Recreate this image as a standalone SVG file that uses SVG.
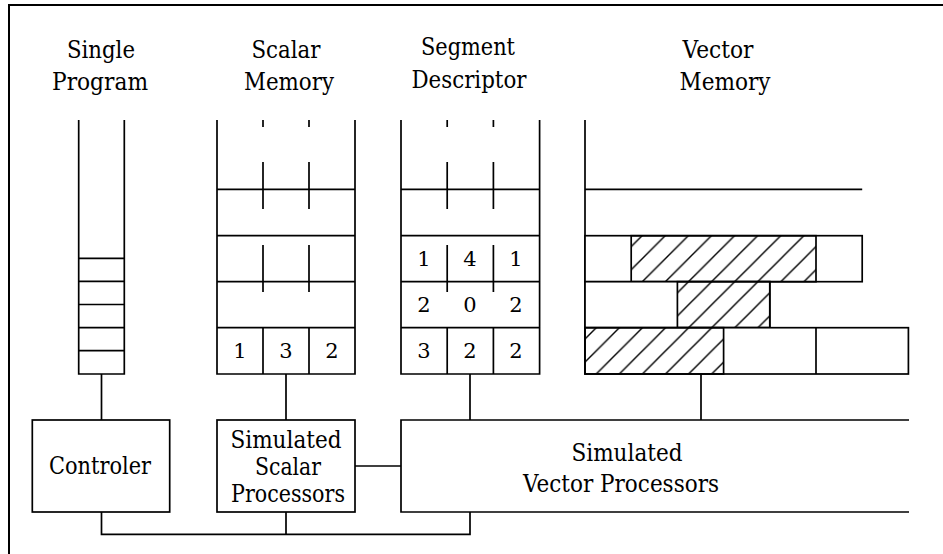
<svg xmlns="http://www.w3.org/2000/svg" width="943" height="554" viewBox="0 0 943 554">
<defs>
<pattern id="hatch" patternUnits="userSpaceOnUse" width="23.1" height="23.1">
<path d="M-3,3 L3,-3 M0,23.1 L23.1,0 M20.1,26.1 L26.1,20.1" stroke="#000" stroke-width="1.4"/>
</pattern>
<style>
.ln{stroke:#000;stroke-width:1.7;fill:none;stroke-linecap:butt}
.bx{stroke:#000;stroke-width:1.7;fill:#fff}
.ht{stroke:#000;stroke-width:1.7;fill:url(#hatch)}
.t{font-size:24px}
.n{font-size:21px}
</style>
</defs>
<rect width="943" height="554" fill="#fff"/>
<path d="M9,554 V5 H943" stroke="#000" stroke-width="2" fill="none"/>
<g font-family="DejaVu Serif, Liberation Serif, serif" fill="#000" text-anchor="middle">
<g id="single-program">
<text class="t" x="101" y="58" textLength="68" lengthAdjust="spacingAndGlyphs">Single</text>
<text class="t" x="100" y="90" textLength="96" lengthAdjust="spacingAndGlyphs">Program</text>
<path class="ln" d="M78.7,120 V374 H124.3 V120 M78.7,258.3 H124.3 M78.7,281.4 H124.3 M78.7,304.5 H124.3 M78.7,327.6 H124.3 M78.7,350.7 H124.3"/>
</g>

<g id="scalar-memory">
<text class="t" x="286" y="58" textLength="69" lengthAdjust="spacingAndGlyphs">Scalar</text>
<text class="t" x="289" y="90" textLength="90" lengthAdjust="spacingAndGlyphs">Memory</text>
<path class="ln" d="M217,120 V374 H355 V120 M217,189.3 H355 M217,235.7 H355 M217,281.7 H355 M217,327.7 H355"/>
<path class="ln" d="M263,120 V127 M309,120 V127 M263,162 V209 M309,162 V209 M263,245 V292 M309,245 V292 M263,327.7 V374 M309,327.7 V374"/>
<text class="n" x="240" y="358">1</text>
<text class="n" x="286" y="358">3</text>
<text class="n" x="332" y="358">2</text>
</g>

<g id="segment-descriptor">
<text class="t" x="468" y="55" textLength="94" lengthAdjust="spacingAndGlyphs">Segment</text>
<text class="t" x="469" y="88" textLength="115" lengthAdjust="spacingAndGlyphs">Descriptor</text>
<path class="ln" d="M401,120 V374 H539.6 V120 M401,189.3 H539.6 M401,235.7 H539.6 M401,281.7 H539.6 M401,327.7 H539.6"/>
<path class="ln" d="M447.2,120 V127 M493.4,120 V127 M447.2,162 V209 M493.4,162 V209 M447.2,245 V292 M493.4,245 V292 M447.2,327.7 V374 M493.4,327.7 V374"/>
<text class="n" x="424" y="266">1</text>
<text class="n" x="470" y="266">4</text>
<text class="n" x="516" y="266">1</text>
<text class="n" x="424" y="312">2</text>
<text class="n" x="470" y="312">0</text>
<text class="n" x="516" y="312">2</text>
<text class="n" x="424" y="358">3</text>
<text class="n" x="470" y="358">2</text>
<text class="n" x="516" y="358">2</text>
</g>

<g id="vector-memory">
<text class="t" x="718" y="58" textLength="71" lengthAdjust="spacingAndGlyphs">Vector</text>
<text class="t" x="725" y="90" textLength="91" lengthAdjust="spacingAndGlyphs">Memory</text>
<path class="ln" d="M585,120 V374 M585,189.3 H862.2"/>
<rect class="bx" x="585" y="235.7" width="277.2" height="46"/>
<rect class="ht" x="631.2" y="235.7" width="184.8" height="46"/>
<rect class="bx" x="585" y="281.7" width="184.8" height="46"/>
<rect class="ht" x="677.4" y="281.7" width="92.4" height="46"/>
<rect class="bx" x="585" y="327.7" width="323.4" height="46.3"/>
<rect class="ht" x="585" y="327.7" width="138.6" height="46.3"/>
<path class="ln" d="M816,327.7 V374"/>
</g>

<g id="controler">
<rect class="bx" x="32.3" y="420" width="137.4" height="92"/>
<text class="t" x="100" y="474" textLength="102" lengthAdjust="spacingAndGlyphs">Controler</text>
</g>

<g id="scalar-processors">
<rect class="bx" x="217" y="420" width="138" height="92"/>
<text class="t" x="286" y="448" textLength="111" lengthAdjust="spacingAndGlyphs">Simulated</text>
<text class="t" x="288" y="475" textLength="66" lengthAdjust="spacingAndGlyphs">Scalar</text>
<text class="t" x="288" y="502" textLength="114" lengthAdjust="spacingAndGlyphs">Processors</text>
</g>

<g id="vector-processors">
<path class="ln" d="M909,420 H401 V512 H909"/>
<text class="t" x="627" y="461" textLength="111" lengthAdjust="spacingAndGlyphs">Simulated</text>
<text class="t" x="621" y="492" textLength="196" lengthAdjust="spacingAndGlyphs">Vector Processors</text>
</g>
</g>
<g id="connectors">
<path class="ln" d="M101.5,374 V420 M286,374 V420 M470,374 V420 M701,374 V420"/>
<path class="ln" d="M355,466 H401"/>
<path class="ln" d="M101.5,512 V534.3 H470 V512 M286,512 V534.3"/>
</g>
</svg>
